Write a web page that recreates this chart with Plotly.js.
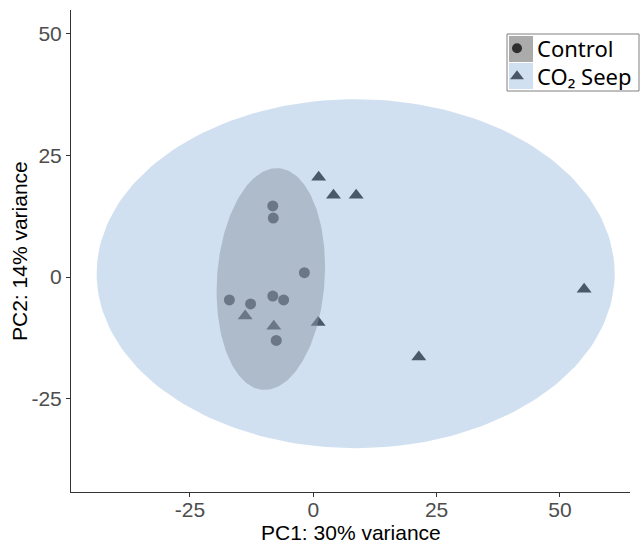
<!DOCTYPE html>
<html>
<head>
<meta charset="utf-8">
<script src="https://cdn.plot.ly/plotly-3.0.1.min.js"></script>
<style>html,body{margin:0;padding:0;background:#fff;}#chart{width:642px;height:544px;}</style>
</head>
<body>
<div id="chart"></div>
<script>
// Group names
const groups = ["Control", "CO₂ Seep"];

// Control samples (PC1, PC2)
const controlPC1 = [-8.2, -8.1, -1.8, -17.0, -12.7, -8.2, -6.0, -7.5];
const controlPC2 = [14.6, 12.1, 0.9, -4.7, -5.5, -3.9, -4.7, -13.0];

// CO2 seep samples (PC1, PC2)
const seepPC1 = [1.1, 4.1, 8.7, -13.8, -8.0, 1.0, 21.4, 54.9];
const seepPC2 = [20.5, 16.8, 16.8, -8.0, -10.1, -9.3, -16.4, -2.5];

// Confidence ellipses: [centerX, centerY, semi-major, semi-minor, angle(deg)]
const controlEllipse = [-8.6, -0.4, 22.8, 10.9, 86];
const seepEllipse = [8.6, 0.7, 52.5, 35.8, 0];

// Axis ticks
const xTicks = [-25, 0, 25, 50];
const yTicks = [-25, 0, 25, 50];

function ellipsePath(e, n) {
  const [cx, cy, a, b, ang] = e;
  const th = ang * Math.PI / 180;
  const xs = [], ys = [];
  for (let i = 0; i <= n; i++) {
    const t = 2 * Math.PI * i / n;
    xs.push(cx + a * Math.cos(t) * Math.cos(th) - b * Math.sin(t) * Math.sin(th));
    ys.push(cy + a * Math.cos(t) * Math.sin(th) + b * Math.sin(t) * Math.cos(th));
  }
  return {x: xs, y: ys};
}

const ce = ellipsePath(controlEllipse, 200);
const se = ellipsePath(seepEllipse, 200);

const traces = [
  {x: controlPC1, y: controlPC2, type: 'scatter', mode: 'markers', showlegend: false,
   marker: {symbol: 'circle', size: 11, color: '#000'}},
  {x: seepPC1, y: seepPC2, type: 'scatter', mode: 'markers', showlegend: false,
   marker: {symbol: 'triangle-up', size: 13, color: '#000'}},
  {x: se.x, y: se.y, type: 'scatter', mode: 'lines', showlegend: false,
   fill: 'toself', fillcolor: 'rgba(157,189,223,0.47)', line: {width: 0, color: 'rgba(0,0,0,0)'}},
  {x: ce.x, y: ce.y, type: 'scatter', mode: 'lines', showlegend: false,
   fill: 'toself', fillcolor: 'rgba(139,150,166,0.5)', line: {width: 0, color: 'rgba(0,0,0,0)'}},
  // legend entries
  {x: [null], y: [null], type: 'scatter', mode: 'markers', name: groups[0], legend: 'legend',
   marker: {symbol: 'circle', size: 10, color: '#2e2e2e'}},
  {x: [null], y: [null], type: 'scatter', mode: 'markers', name: groups[1], legend: 'legend2',
   marker: {symbol: 'triangle-up', size: 12, color: '#4a566a'}}
];

// pixel -> paper helpers for the legend frame
const L = 71, R = 630, T = 10, B = 492;
const px = v => (v - L) / (R - L);
const py = v => (B - v) / (B - T);

const legendFont = {family: 'Noto Sans, Open Sans, sans-serif', size: 22, color: '#000'};

const layout = {
  width: 642, height: 544,
  margin: {l: L, r: 642 - R, t: T, b: 544 - B, autoexpand: false},
  paper_bgcolor: '#fff', plot_bgcolor: '#fff',
  font: {family: 'Liberation Sans, Arial, sans-serif'},
  xaxis: {range: [-49.1, 64.2], tickvals: xTicks, ticktext: xTicks.map(String),
    showline: true, linecolor: '#333', linewidth: 1, showgrid: false, zeroline: false,
    ticks: 'outside', ticklen: 4, tickcolor: '#333', ticklabelstandoff: -5,
    tickfont: {size: 21, color: '#4d4d4d'}},
  yaxis: {range: [-44.1, 54.8], tickvals: yTicks, ticktext: yTicks.map(String),
    showline: true, linecolor: '#333', linewidth: 1, showgrid: false, zeroline: false,
    ticks: 'outside', ticklen: 4, tickcolor: '#333',
    tickfont: {size: 21, color: '#4d4d4d'}},
  legend: {x: px(497), xanchor: 'left', y: py(48.5), yanchor: 'middle',
    bgcolor: 'rgba(0,0,0,0)', borderwidth: 0, font: legendFont},
  legend2: {x: px(497), xanchor: 'left', y: py(76.5), yanchor: 'middle',
    bgcolor: 'rgba(0,0,0,0)', borderwidth: 0, font: legendFont},
  shapes: [
    {type: 'rect', xref: 'paper', yref: 'paper', x0: px(507), x1: px(639), y0: py(34), y1: py(91),
     fillcolor: '#fff', line: {color: '#808080', width: 1}, layer: 'above'},
    {type: 'rect', xref: 'paper', yref: 'paper', x0: px(509), x1: px(533), y0: py(36), y1: py(62),
     fillcolor: '#ababab', line: {width: 0}, layer: 'above'},
    {type: 'rect', xref: 'paper', yref: 'paper', x0: px(509), x1: px(533), y0: py(63), y1: py(89),
     fillcolor: '#d1e0f0', line: {width: 0}, layer: 'above'}
  ],
  annotations: [
    {text: 'PC1: 30% variance', xref: 'paper', yref: 'paper',
     x: 0.5, y: py(532), xanchor: 'center', yanchor: 'middle',
     showarrow: false, font: {size: 21, color: '#000'}},
    {text: 'PC2: 14% variance', xref: 'paper', yref: 'paper', textangle: -90,
     x: px(19), y: 0.5, xanchor: 'center', yanchor: 'middle',
     showarrow: false, font: {size: 21, color: '#000'}}
  ]
};

Plotly.newPlot('chart', traces, layout, {displayModeBar: false, staticPlot: true});
</script>
</body>
</html>
